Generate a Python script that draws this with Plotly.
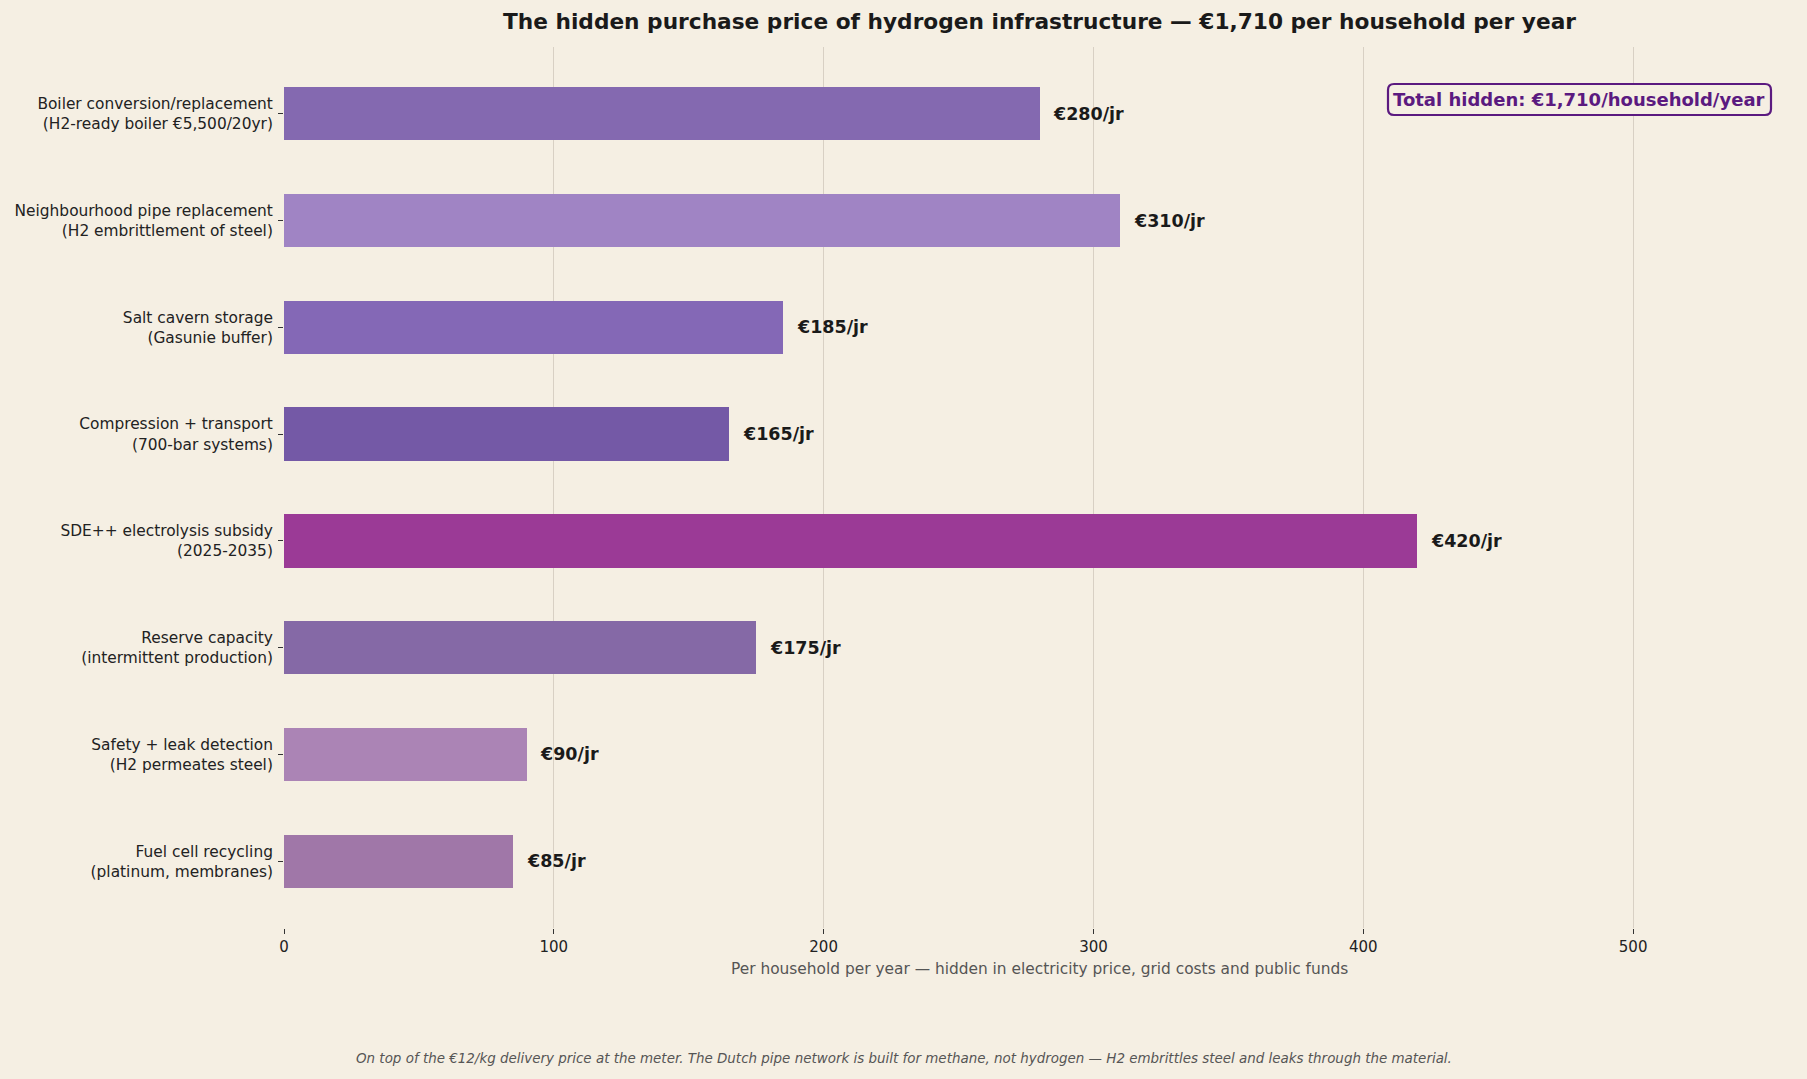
import plotly.graph_objects as go

categories = [
    "Boiler conversion/replacement<br>(H2-ready boiler €5,500/20yr)",
    "Neighbourhood pipe replacement<br>(H2 embrittlement of steel)",
    "Salt cavern storage<br>(Gasunie buffer)",
    "Compression + transport<br>(700-bar systems)",
    "SDE++ electrolysis subsidy<br>(2025-2035)",
    "Reserve capacity<br>(intermittent production)",
    "Safety + leak detection<br>(H2 permeates steel)",
    "Fuel cell recycling<br>(platinum, membranes)",
]
values = [280, 310, 185, 165, 420, 175, 90, 85]
colors = ["#8469b0", "#a084c4", "#8468b6", "#7459a6", "#9b3a96", "#8569a6", "#ab84b5", "#a077a8"]
x_ticks = [0, 100, 200, 300, 400, 500]

title_text = "The hidden purchase price of hydrogen infrastructure — €1,710 per household per year"
total_text = "Total hidden: €1,710/household/year"
xlabel = "Per household per year — hidden in electricity price, grid costs and public funds"
footer = ("On top of the €12/kg delivery price at the meter. The Dutch pipe network is built for methane, "
          "not hydrogen — H2 embrittles steel and leaks through the material.")

W, H = 1807, 1079
L, R, T, B = 284, 12, 47, 151
plot_w = W - L - R
plot_h = H - T - B

BG = "#f5efe3"
PURPLE = "#5b1a80"
FONT = "DejaVu Sans"

ypos = list(range(len(categories)))


def px_to_paper_y(py):
    return (H - B - py) / plot_h


def px_to_paper_x(px):
    return (px - L) / plot_w


def rounded_rect_path(x0, y0, x1, y1, r):
    # pixel coords -> paper coords path with rounded corners
    X = px_to_paper_x
    Y = px_to_paper_y
    return (
        f"M {X(x0 + r)} {Y(y0)} L {X(x1 - r)} {Y(y0)} "
        f"Q {X(x1)} {Y(y0)} {X(x1)} {Y(y0 + r)} "
        f"L {X(x1)} {Y(y1 - r)} Q {X(x1)} {Y(y1)} {X(x1 - r)} {Y(y1)} "
        f"L {X(x0 + r)} {Y(y1)} Q {X(x0)} {Y(y1)} {X(x0)} {Y(y1 - r)} "
        f"L {X(x0)} {Y(y0 + r)} Q {X(x0)} {Y(y0)} {X(x0 + r)} {Y(y0)} Z"
    )


fig = go.Figure()
fig.add_trace(go.Bar(
    x=values, y=ypos, orientation="h", width=0.5,
    marker=dict(color=colors, line=dict(width=0)),
    hoverinfo="skip",
))

annotations = []
for v, yy in zip(values, ypos):
    annotations.append(dict(
        x=v + 4.2, y=yy, xref="x", yref="y", text=f"<b>€{v}/jr</b>",
        showarrow=False, xanchor="left", yanchor="middle",
        font=dict(family=FONT, size=17.5, color="#1a1a1a"),
    ))

annotations.append(dict(
    x=0.5, y=px_to_paper_y(22), xref="paper", yref="paper",
    text=f"<b>{title_text}</b>", showarrow=False, xanchor="center", yanchor="middle",
    font=dict(family=FONT, size=21.7, color="#1a1a1a"),
))
annotations.append(dict(
    x=px_to_paper_x(1579), y=px_to_paper_y(99.5), xref="paper", yref="paper",
    text=f"<b>{total_text}</b>", showarrow=False, xanchor="center", yanchor="middle",
    font=dict(family=FONT, size=18, color=PURPLE),
))
annotations.append(dict(
    x=0.5, y=px_to_paper_y(969), xref="paper", yref="paper",
    text=xlabel, showarrow=False, xanchor="center", yanchor="middle",
    font=dict(family=FONT, size=15.4, color="#555555"),
))
annotations.append(dict(
    x=px_to_paper_x(W / 2), y=px_to_paper_y(1058), xref="paper", yref="paper",
    text=f"<i>{footer}</i>", showarrow=False, xanchor="center", yanchor="middle",
    font=dict(family=FONT, size=13.45, color="#555555"),
))

shapes = [dict(
    type="path", xref="paper", yref="paper",
    path=rounded_rect_path(1388, 84, 1771, 115, 6),
    line=dict(color=PURPLE, width=2.2), fillcolor=BG, layer="above",
)]

fig.update_layout(
    width=W, height=H,
    margin=dict(l=L, r=R, t=T, b=B, pad=0),
    paper_bgcolor=BG, plot_bgcolor=BG,
    showlegend=False,
    bargap=0,
    font=dict(family=FONT, color="#222222"),
    xaxis=dict(
        range=[0, 560], tickvals=x_ticks, ticktext=[str(t) for t in x_ticks],
        showgrid=True, gridcolor="#d8d0c4", gridwidth=1,
        zeroline=False, showline=False,
        ticks="outside", ticklen=5, tickcolor="#333333", tickwidth=1,
        tickfont=dict(family=FONT, size=15, color="#222222"),
    ),
    yaxis=dict(
        range=[len(categories) - 1 + 0.625, -0.625],
        tickvals=ypos, ticktext=categories,
        showgrid=False, zeroline=False, showline=False,
        ticks="outside", ticklen=5, tickcolor="#333333", tickwidth=1,
        tickfont=dict(family=FONT, size=15.4, color="#222222"),
        ticklabelstandoff=2,
    ),
    shapes=shapes,
    annotations=annotations,
)

fig.write_html("out.html")
